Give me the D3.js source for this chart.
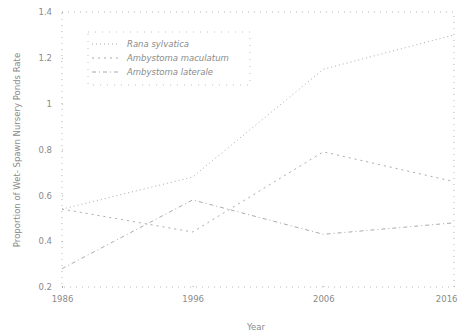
<!DOCTYPE html>
<html><head><meta charset="utf-8">
<script src="https://cdn.jsdelivr.net/npm/d3@7"></script>
<style>body{margin:0;background:#fff}text{font-family:"DejaVu Sans",sans-serif}</style>
</head><body><svg id="c" width="458" height="336"></svg>
<script>
const years = [1986, 1996, 2006, 2016];
const ranaSylvatica = [0.54, 0.68, 1.15, 1.30];
const ambystomaMaculatum = [0.54, 0.44, 0.79, 0.66];
const ambystomaLaterale = [0.28, 0.58, 0.43, 0.48];
const seriesNames = ["Rana sylvatica", "Ambystoma maculatum", "Ambystoma laterale"];
const yTicks = [0.2, 0.4, 0.6, 0.8, 1, 1.2, 1.4];
const xTicks = [1986, 1996, 2006, 2016];

const series = [ranaSylvatica, ambystomaMaculatum, ambystomaLaterale];
const dashes = ["1,3", "2,4", "4,3,1,3"];
const svg = d3.select("#c");
const x = d3.scaleLinear().domain([1986, 2016]).range([62, 454]);
const y = d3.scaleLinear().domain([0.2, 1.4]).range([287, 12]);

// frame
svg.append("rect").attr("x", 62).attr("y", 12).attr("width", 392).attr("height", 275)
  .attr("fill", "none").attr("stroke", "#b5b5b5").attr("stroke-width", 1).attr("stroke-dasharray", "1,5");

const xa = svg.append("g").attr("transform", "translate(0,287)")
  .call(d3.axisBottom(x).tickValues(xTicks).tickFormat(d3.format("d")).tickSize(-3).tickPadding(9));
const ya = svg.append("g").attr("transform", "translate(62,0)")
  .call(d3.axisLeft(y).tickValues(yTicks).tickFormat(d => String(d)).tickSize(-3).tickPadding(10));
[xa, ya].forEach(a => {
  a.select(".domain").remove();
  a.selectAll("line").attr("stroke", "#aaa").attr("stroke-dasharray", "1,2");
  a.selectAll("text").attr("fill", "#8a8a8a").style("font-size", "8.5px");
});
xa.selectAll(".tick").filter(d => d === 2016).select("text")
  .attr("text-anchor", "end").attr("dx", "3px");

const line = d3.line().x((d, i) => x(years[i])).y(d => y(d));
series.forEach((s, k) => {
  svg.append("path").datum(s).attr("d", line).attr("fill", "none")
    .attr("stroke", "#ababab").attr("stroke-width", 1).attr("stroke-dasharray", dashes[k]);
});

// legend
const lg = svg.append("g");
lg.append("rect").attr("x", 88).attr("y", 32).attr("width", 162).attr("height", 53)
  .attr("fill", "none").attr("stroke", "#c0c0c0").attr("stroke-dasharray", "1,6");
seriesNames.forEach((n, k) => {
  const yy = 44 + k * 14;
  lg.append("line").attr("x1", 92).attr("x2", 118).attr("y1", yy).attr("y2", yy)
    .attr("stroke", "#a8a8a8").attr("stroke-dasharray", dashes[k]);
  lg.append("text").attr("x", 127).attr("y", yy + 3).text(n)
    .attr("fill", "#8a8a8a").style("font-size", "8.5px").style("font-style", "italic");
});

svg.append("text").attr("x", 256).attr("y", 330).attr("text-anchor", "middle")
  .attr("fill", "#8a8a8a").style("font-size", "8.5px").text("Year");
svg.append("text").attr("transform", "translate(20,150) rotate(-90)").attr("text-anchor", "middle")
  .attr("fill", "#8a8a8a").style("font-size", "8.5px").text("Proportion of Wet- Spawn Nursery Ponds Rate");
</script></body></html>
